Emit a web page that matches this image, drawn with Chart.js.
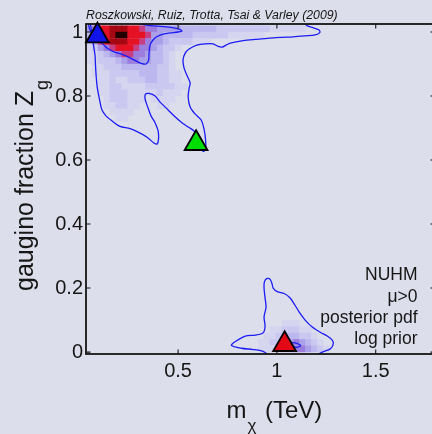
<!DOCTYPE html>
<html><head><meta charset="utf-8">
<script src="https://cdn.jsdelivr.net/npm/chart.js@4.4.0/dist/chart.umd.min.js"></script>
<style>
html,body{margin:0;padding:0;background:rgb(221,222,235);overflow:hidden;width:432px;height:434px}
#wrap{position:absolute;left:0;top:0;width:440px;height:434px}
canvas{display:block}
</style>
</head><body>
<div id="wrap"><canvas id="c"></canvas></div>
<script>
// ---- axes ----
const xTicks = [0.5, 1, 1.5];
const xTickLabels = ['0.5', '1', '1.5'];
const yTicks = [0, 0.2, 0.4, 0.6, 0.8, 1];
const yTickLabels = ['0', '0.2', '0.4', '0.6', '0.8', '1'];
const xRange = [0.034, 1.8];
const yRange = [-0.006, 1.025];

// ---- posterior pdf grid (intensity level 0-9 per cell) ----
const cellW = 0.03, cellH = 0.02;
const topBlockM0 = 0.05, topBlockZ0 = 1.01;
const topBlock = [
  '45778887765544443333332222222221111110000',
  '34778997776443333322222211111100000000000',
  '24678887765443222211100000000000000000000',
  '12456777655432210000000000000000000000000',
  '11234566554332100000000000000000000000000',
  '11222345544332100000000000000000000000000',
  '01122233333322100000000000000000000000000',
  '01112222233322110000000000000000000000000',
  '00112112223322110000000000000000000000000',
  '00112211112222211000000000000000000000000',
  '00112221111121110000000000000000000000000',
  '00012221110111100000000000000000000000000',
  '00011221100011000000000000000000000000000',
  '00001111000000000000000000000000000000000',
  '00000110000000000000000000000000000000000'
];
const bottomBlockM0 = 0.92, bottomBlockZ0 = 0.09;
const bottomBlock = [
  '0000111',
  '001122211',
  '0112233221',
  '11223454321',
  '111234554321'
];
const levelColors = ['', 'rgb(213,213,240)', 'rgb(202,200,240)', 'rgb(188,183,238)', 'rgb(170,160,233)',
  'rgb(155,125,222)', 'rgb(200,62,130)', 'rgb(228,18,36)', 'rgb(165,8,18)', 'rgb(35,0,0)'];

// ---- 2D credible contours (m_chi [TeV], Z_g) ----
const outerContour = [[0.054,1.038],[0.064,0.991],[0.072,0.959],[0.080,0.925],[0.082,0.897],[0.085,0.866],[0.090,0.831],[0.096,0.809],[0.105,0.781],[0.115,0.756],[0.135,0.738],[0.166,0.722],[0.206,0.705],[0.257,0.698],[0.308,0.684],[0.348,0.669],[0.378,0.653],[0.394,0.650],[0.401,0.666],[0.399,0.691],[0.384,0.716],[0.363,0.738],[0.346,0.766],[0.333,0.791],[0.335,0.806],[0.353,0.808],[0.384,0.800],[0.409,0.781],[0.439,0.763],[0.475,0.741],[0.515,0.719],[0.551,0.703],[0.581,0.691],[0.606,0.672],[0.617,0.653],[0.617,0.634],[0.629,0.627],[0.639,0.634],[0.639,0.663],[0.632,0.694],[0.617,0.725],[0.586,0.744],[0.561,0.766],[0.551,0.797],[0.556,0.825],[0.561,0.841],[0.546,0.863],[0.530,0.888],[0.525,0.913],[0.536,0.934],[0.556,0.947],[0.595,0.959],[0.637,0.963],[0.677,0.963],[0.703,0.955],[0.723,0.953],[0.743,0.959],[0.764,0.965],[0.829,0.973],[0.890,0.977],[0.951,0.980],[1.017,0.983],[1.083,0.985],[1.143,0.988],[1.194,0.991],[1.217,0.998],[1.214,1.006],[1.184,1.013],[1.154,1.019],[1.138,1.028],[1.118,1.038]];
const innerContour = [[0.044,1.031],[0.054,1.006],[0.080,0.980],[0.105,0.969],[0.125,0.959],[0.140,0.950],[0.176,0.938],[0.227,0.928],[0.277,0.913],[0.313,0.902],[0.338,0.900],[0.351,0.913],[0.353,0.934],[0.358,0.959],[0.373,0.975],[0.394,0.986],[0.429,0.994],[0.460,0.997],[0.500,1.000],[0.520,1.003],[0.505,1.009],[0.470,1.014],[0.424,1.017],[0.358,1.020],[0.308,1.025],[0.257,1.031]];
const lowerContour = [[0.96,-0.01],[0.93,0.002],[0.88,0.008],[0.82,0.012],[0.77,0.021],[0.79,0.033],[0.84,0.05],[0.89,0.053],[0.93,0.06],[0.94,0.08],[0.935,0.11],[0.945,0.14],[0.94,0.17],[0.935,0.2],[0.937,0.22],[0.951,0.23],[0.966,0.227],[0.976,0.212],[0.981,0.2],[1.002,0.189],[1.037,0.183],[1.067,0.169],[1.088,0.15],[1.113,0.125],[1.143,0.1],[1.179,0.078],[1.219,0.062],[1.255,0.05],[1.28,0.037],[1.285,0.025],[1.27,0.01],[1.23,0.0],[1.2,-0.01]];
const smallContour = [[1.07,0.03],[1.10,0.027],[1.12,0.02],[1.10,0.015],[1.07,0.018]];

// ---- benchmark points (triangles) ----
const markerM = [0.092, 0.591, 1.039];
const markerZ = [0.988, 0.652, 0.024];
const markerColors = ['rgb(18,18,235)', 'rgb(0,222,0)', 'rgb(226,8,22)'];

// ---- texts ----
const citation = 'Roszkowski, Ruiz, Trotta, Tsai & Varley (2009)';
const noteLines = ['NUHM', 'μ>0', 'posterior pdf', 'log prior'];

// build library data
const heatPts = [], heatCols = [];
function addBlock(rows, m0, z0) {
  rows.forEach((row, r) => {
    for (let c = 0; c < row.length; c++) {
      const v = +row[c];
      if (v > 0) { heatPts.push({x: m0 + c * cellW, y: z0 - r * cellH}); heatCols.push(levelColors[v]); }
    }
  });
}
addBlock(topBlock, topBlockM0, topBlockZ0);
addBlock(bottomBlock, bottomBlockM0, bottomBlockZ0);
const toPts = a => a.map(p => ({x: p[0], y: p[1]}));

const FONT = '"Liberation Sans", Arial, Helvetica, sans-serif';
const INK = '#161616';

function cellRadius(ctx) {
  const s = ctx.chart.scales;
  const w = Math.abs(s.x.getPixelForValue(cellW) - s.x.getPixelForValue(0));
  const h = Math.abs(s.y.getPixelForValue(0) - s.y.getPixelForValue(cellH));
  return Math.max(w, h) / Math.SQRT2 + 0.2;
}

function drawFrame(chart) {
  const {ctx, chartArea: a, scales: {x, y}} = chart;
  ctx.save();
  ctx.strokeStyle = INK; ctx.lineWidth = 1.8;
  ctx.strokeRect(a.left, a.top, a.right - a.left, a.bottom - a.top);
  ctx.lineWidth = 1.1;
  ctx.beginPath();
  xTicks.forEach(v => { const p = x.getPixelForValue(v);
    ctx.moveTo(p, a.bottom); ctx.lineTo(p, a.bottom - 4.5);
    ctx.moveTo(p, a.top); ctx.lineTo(p, a.top + 4.5); });
  yTicks.forEach(v => { const p = y.getPixelForValue(v);
    ctx.moveTo(a.left, p); ctx.lineTo(a.left + 4.5, p);
    ctx.moveTo(a.right, p); ctx.lineTo(a.right - 4.5, p); });
  ctx.stroke();
  ctx.restore();
}

const deco = {
  id: 'deco',
  afterDatasetDraw(chart, args) { if (args.index === 1) drawFrame(chart); },
  afterDraw(chart) {
    const ctx = chart.ctx;
    ctx.save();
    ctx.fillStyle = INK;
    ctx.textBaseline = 'alphabetic';
    ctx.font = 'italic 12.3px ' + FONT;
    ctx.textAlign = 'left';
    ctx.fillText(citation, 86, 18.5);
    ctx.font = '17.5px ' + FONT;
    ctx.textAlign = 'right';
    const base = [280, 301.5, 322.5, 344];
    noteLines.forEach((t, i) => ctx.fillText(t, 417.5, base[i]));
    ctx.textAlign = 'left';
    ctx.font = '24px ' + FONT;
    ctx.fillText('m', 226.5, 418);
    ctx.font = '17px ' + FONT;
    ctx.fillText('χ', 247.5, 430.5);
    ctx.font = '24px ' + FONT;
    ctx.fillText('(TeV)', 265, 418);
    ctx.translate(32.5, 291);
    ctx.rotate(-Math.PI / 2);
    ctx.font = '25px ' + FONT;
    const main = 'gaugino fraction Z';
    ctx.fillText(main, 0, 0);
    const w = ctx.measureText(main).width;
    ctx.font = '18px ' + FONT;
    ctx.fillText('g', w + 1, 15);
    ctx.restore();
  }
};

const contourStyle = {showLine: true, pointRadius: 0, borderColor: 'rgb(28,28,245)', borderWidth: 1.3, tension: 0.3, fill: false};

new Chart(document.getElementById('c'), {
  type: 'scatter',
  data: {
    datasets: [
      {data: markerM.map((m, i) => ({x: m, y: markerZ[i]})), pointStyle: 'triangle', pointRadius: 13.2,
        backgroundColor: markerColors, borderColor: '#000', borderWidth: 1.8, clip: false},
      Object.assign({data: toPts(outerContour)}, contourStyle),
      Object.assign({data: toPts(innerContour)}, contourStyle),
      Object.assign({data: toPts(lowerContour)}, contourStyle),
      Object.assign({data: toPts(smallContour)}, contourStyle),
      {data: heatPts, pointStyle: 'rect', pointRadius: cellRadius, backgroundColor: heatCols, borderWidth: 0}
    ]
  },
  options: {
    responsive: true, maintainAspectRatio: false, animation: false, devicePixelRatio: 1,
    layout: {autoPadding: false, padding: {top: 24, right: 5, left: 0, bottom: 0}},
    plugins: {legend: {display: false}, tooltip: {enabled: false}},
    elements: {point: {hoverRadius: 0}},
    scales: {
      x: {type: 'linear', min: xRange[0], max: xRange[1],
        grid: {display: false, drawTicks: false}, border: {display: false},
        afterBuildTicks: s => { s.ticks = xTicks.map(v => ({value: v})); },
        afterFit: s => { s.height = 80; },
        ticks: {padding: 5, color: INK, font: {family: FONT, size: 20}, callback: (v, i) => xTickLabels[i]}},
      y: {type: 'linear', min: yRange[0], max: yRange[1],
        grid: {display: false, drawTicks: false}, border: {display: false},
        afterBuildTicks: s => { s.ticks = yTicks.map(v => ({value: v})); },
        afterFit: s => { s.width = 86; },
        ticks: {padding: 3, color: INK, font: {family: FONT, size: 20}, callback: (v, i) => yTickLabels[i]}}
    }
  },
  plugins: [deco]
});
</script>
</body></html>
